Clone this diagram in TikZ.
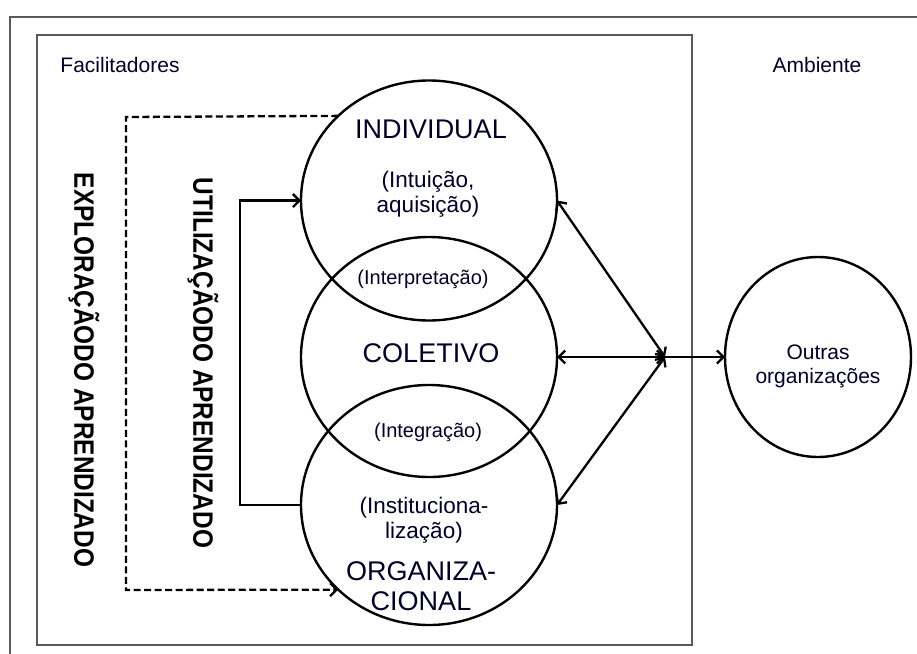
\documentclass[tikz,border=0pt]{standalone}
\usepackage{fontspec}
\setmainfont{Liberation Sans}
\usetikzlibrary{shapes.geometric,arrows.meta}
\begin{document}
\begin{tikzpicture}[x=1pt,y=-1pt,
  frame/.style={draw=black!65, line width=1.8pt},
  stage/.style={ellipse, draw, line width=2.4pt, inner sep=0pt, outer sep=0pt,
    minimum width=256pt, minimum height=240pt},
  tip/.style={line width=2.3pt, -{Straight Barb[length=6.5pt,width=13pt]}},
  both/.style={line width=2.3pt, {Straight Barb[length=6.5pt,width=13pt]}-{Straight Barb[length=6.5pt,width=13pt]}},
  txt/.style={inner sep=0pt, align=center, text=black!85!blue},
  big/.style={txt, font=\fontsize{27}{30}\selectfont},
  mid/.style={txt, font=\fontsize{22.5}{24.5}\selectfont},
  small/.style={txt, font=\fontsize{20}{22}\selectfont},
  label/.style={txt, font=\fontsize{21}{24}\selectfont},
  side/.style={inner sep=0pt, rotate=-90, font=\bfseries\fontsize{24.4}{26}\selectfont}
]
\useasboundingbox (0,0) rectangle (917,653);

% surrounding frames
\draw[frame] (10,670) |- (930,17);
\draw[frame] (37,35) rectangle (692,645);

\node[label] (fac) at (120,65) {Facilitadores};
\node[label] (amb) at (817,65) {Ambiente};

% the three learning levels
\node[stage] (ind) at (429,200.5) {};
\node[stage] (col) at (429,357) {};
\node[stage] (org) at (429,505) {};
\node[ellipse, draw, line width=2.4pt, inner sep=0pt, outer sep=0pt,
  minimum width=186pt, minimum height=200pt] (out) at (818,357) {};

\node[big] (tind) at (431,129) {INDIVIDUAL};
\node[mid] (tint) at (428,194) {(Intuição,\\aquisição)};
\node[small] (tinp) at (423,279) {(Interpretação)};
\node[big] (tcol) at (431,353) {COLETIVO};
\node[small] (tinr) at (428,432) {(Integração)};
\node[mid] (tins) at (424,520) {(Instituciona-\\lização)};
\node[big] (torg) at (421,586) {ORGANIZA-\\CIONAL};
\node[label] (tout) at (818,366) {Outras\\organizações};

% vertical captions
\node[side] (exp) at (84,370) {\scalebox{1}[1.15]{EXPLORAÇÃODO APRENDIZADO}};
\node[side] (uti) at (203,363) {\scalebox{1}[1.15]{UTILIZAÇÃODO APRENDIZADO}};

% feedback loops
\coordinate (dtl) at (126,117);
\coordinate (dbl) at (126,590);
\draw[tip, dashed, dash pattern=on 7pt off 3.5pt] (ind.137.7) -- (dtl) -- (dbl) -- (org.223.2);
\draw[tip] (org.west) -- ++(-61,0) |- (ind.west);

% exchanges with the environment
\coordinate (hub) at (665,357);
\draw[both] (hub) -- (ind.east);
\draw[both] (hub) -- (col.east);
\draw[both] (hub) -- (org.east);
\draw[tip] (hub) -- (out.west);
\end{tikzpicture}
\end{document}
